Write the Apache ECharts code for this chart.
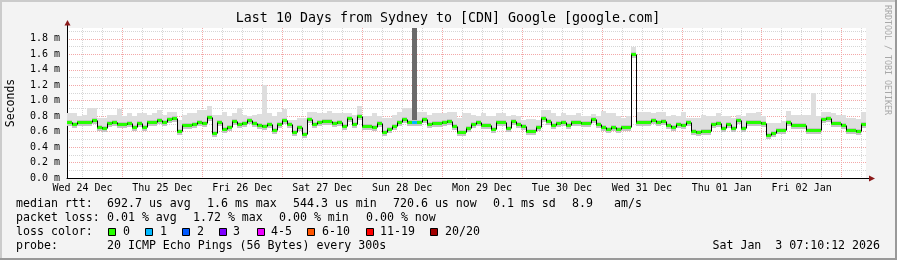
<!DOCTYPE html>
<html><head><meta charset="utf-8">
<script src="https://cdn.jsdelivr.net/npm/echarts@6/dist/echarts.min.js"></script>
<style>html,body{margin:0;padding:0;background:#f3f3f3}#c{width:897px;height:260px}</style>
</head><body><div id="c"></div>
<script>
const titleText = 'Last 10 Days from Sydney to [CDN] Google [google.com]';
const yAxisTitle = 'Seconds';
const dayLabels = ['Wed 24 Dec','Thu 25 Dec','Fri 26 Dec','Sat 27 Dec','Sun 28 Dec','Mon 29 Dec','Tue 30 Dec','Wed 31 Dec','Thu 01 Jan','Fri 02 Jan'];
const startMinute = 440;      // left edge of the plot, minutes after Wed 24 Dec 00:00
const spanMinutes = 14400;    // 10 days
const yMax = 1.94;            // ms

// median RTT per 90-minute bin (ms)
const median = [
0.72,0.70,0.72,0.73,0.72,0.75,0.66,0.645,0.71,0.72,
0.70,0.70,0.71,0.665,0.71,0.66,0.72,0.73,0.745,0.72,
0.765,0.77,0.61,0.68,0.68,0.70,0.72,0.71,0.79,0.58,
0.72,0.63,0.66,0.74,0.70,0.71,0.75,0.71,0.68,0.675,
0.70,
0.62,0.70,0.75,0.70,0.60,0.66,0.575,0.76,0.70,0.73,
0.74,0.74,0.71,0.72,0.67,0.77,0.70,0.80,0.67,0.67,
0.66,0.71,0.60,0.63,0.67,0.72,0.76,0.73,0.73,0.73,
0.76,0.70,0.71,0.71,0.72,0.74,0.67,0.59,0.59,0.65,
0.70,0.72,0.68,0.68,0.64,0.72,0.72,0.645,0.74,0.70,
0.67,0.61,0.61,0.66,0.78,0.74,0.69,0.71,0.72,0.69,
0.72,0.73,0.71,0.71,0.76,0.70,0.66,0.63,0.66,0.63,
0.66,0.66,1.61,0.72,0.72,0.72,0.75,0.73,0.74,0.69,
0.66,0.70,0.685,0.72,0.61,0.60,0.61,0.61,0.70,0.71,
0.645,0.70,0.645,0.75,0.65,0.72,0.72,0.72,0.71,0.55,
0.58,0.62,0.62,0.72,0.69,0.68,0.68,0.62,0.62,0.62,
0.76,0.78,0.71,0.71,0.69,0.62,0.62,0.61,0.70
];
// smoke (ping spread) upper edge per bin (ms)
const smokeHigh = [
0.84,0.84,0.80,0.82,0.90,0.90,0.77,0.78,0.82,0.82,
0.89,0.80,0.84,0.80,0.84,0.84,0.82,0.84,0.88,0.82,
0.85,0.85,0.75,0.82,0.84,0.84,0.88,0.88,0.93,0.82,
0.82,0.86,0.80,0.84,0.90,0.82,0.80,0.82,0.83,1.20,
0.84,
0.80,0.86,0.89,0.75,0.75,0.77,0.77,0.86,0.85,0.84,
0.84,0.87,0.84,0.84,0.84,0.84,0.82,0.93,0.80,0.80,
0.84,0.80,0.77,0.77,0.81,0.86,0.90,0.90,1.94,0.85,
0.85,0.82,0.84,0.84,0.84,0.86,0.86,0.77,0.84,0.84,
0.82,0.80,0.84,0.80,0.80,0.84,0.84,0.80,0.82,0.80,
0.75,0.76,0.76,0.75,0.88,0.88,0.84,0.80,0.84,0.82,
0.82,0.84,0.80,0.80,0.83,0.80,0.87,0.84,0.84,0.80,
0.78,0.80,1.70,0.86,0.86,0.86,0.84,0.86,0.85,0.80,
0.82,0.80,0.86,0.78,0.78,0.77,0.82,0.80,0.80,0.84,
0.80,0.80,0.78,0.82,0.80,0.84,0.84,0.85,0.80,0.71,
0.71,0.71,0.74,0.87,0.82,0.82,0.82,0.82,1.10,0.80,
0.86,0.86,0.84,0.82,0.82,0.77,0.77,0.76,0.85
];
// smoke lower edge per bin (ms)
const smokeLow = [
0.68,0.66,0.68,0.69,0.68,0.70,0.62,0.61,0.67,0.68,
0.66,0.67,0.67,0.62,0.67,0.62,0.68,0.69,0.70,0.68,
0.72,0.73,0.57,0.64,0.64,0.66,0.68,0.67,0.74,0.54,
0.67,0.59,0.62,0.70,0.66,0.67,0.71,0.67,0.64,0.63,
0.66,
0.58,0.66,0.71,0.66,0.56,0.62,0.54,0.72,0.66,0.69,
0.70,0.70,0.67,0.68,0.63,0.73,0.66,0.75,0.63,0.63,
0.62,0.67,0.56,0.59,0.63,0.68,0.72,0.69,0.69,0.69,
0.72,0.66,0.67,0.67,0.68,0.70,0.63,0.55,0.55,0.61,
0.66,0.68,0.64,0.64,0.60,0.68,0.68,0.61,0.70,0.66,
0.63,0.57,0.57,0.62,0.73,0.70,0.65,0.67,0.68,0.65,
0.68,0.69,0.67,0.67,0.72,0.66,0.62,0.59,0.62,0.59,
0.62,0.62,1.56,0.68,0.68,0.68,0.71,0.69,0.70,0.65,
0.62,0.66,0.64,0.68,0.57,0.56,0.57,0.57,0.66,0.67,
0.61,0.66,0.61,0.71,0.61,0.68,0.68,0.68,0.67,0.52,
0.54,0.58,0.58,0.68,0.65,0.64,0.64,0.58,0.58,0.58,
0.72,0.74,0.67,0.67,0.65,0.58,0.58,0.57,0.66
];
// bins where 1 of 20 pings was lost
const lossBins = [69];

const rttLabel = 'median rtt:';
const rttStats = ['692.7 us avg','1.6 ms max','544.3 us min','720.6 us now','0.1 ms sd','8.9','am/s'];
const lossLabel = 'packet loss:';
const lossStats = ['0.01 % avg','1.72 % max','0.00 % min','0.00 % now'];
const colorLabel = 'loss color:';
const lossNames = ['0','1','2','3','4-5','6-10','11-19','20/20'];
const lossColors = ['#26ff00','#00b8ff','#0059ff','#7e00ff','#ee00ff','#ff5500','#ff0000','#a10000'];
const probeLabel = 'probe:';
const probeText = '20 ICMP Echo Pings (56 Bytes) every 300s';
const stampText = 'Sat Jan  3 07:10:12 2026';
const sideText = 'RRDTOOL / TOBI OETIKER';

// ---- layout ----
const mono = '"DejaVu Sans Mono", monospace';
const G = {left: 67, right: 866, top: 28, bottom: 178};
const rttX = [107,207,293,393,493,572,614];
const lossX = [107,193,279,366];
const swatchX = [108,145,182,219,257,307,366,430];
const swatchTextX = [123,160,197,233,271,322,380,445];
const rowY = [204,218,232,246];
const legendFont = '11.6px ' + mono;
const minorGrid = '#d6d6d6';
const majorGrid = '#f3a8a8';

const chart = echarts.init(document.getElementById('c'), null, {renderer: 'canvas', width: 897, height: 260});
const cats = median.map((_, i) => String(i));
const gridMinutes = [];
for (let m = startMinute; m <= startMinute + spanMinutes; m += 10) gridMinutes.push(String(m));

function txt(text, x, y, extra) {
  return Object.assign({type: 'text', x: x, y: y, silent: true,
    style: Object.assign({text: text, font: legendFont, fill: '#000', verticalAlign: 'middle', align: 'left'}, extra || {})});
}
const graphics = [];
graphics.push({type: 'rect', shape: {x: 0, y: 0, width: 897, height: 2}, style: {fill: '#cbcbcb'}, silent: true});
graphics.push({type: 'rect', shape: {x: 0, y: 0, width: 2, height: 260}, style: {fill: '#cbcbcb'}, silent: true});
graphics.push({type: 'rect', shape: {x: 0, y: 258, width: 897, height: 2}, style: {fill: '#999999'}, silent: true});
graphics.push({type: 'rect', shape: {x: 895, y: 0, width: 2, height: 260}, style: {fill: '#999999'}, silent: true});
graphics.push(txt(titleText, 448, 19, {font: '13.3px ' + mono, align: 'center'}));
graphics.push(Object.assign(txt(yAxisTitle, 11, 103, {font: '11.5px ' + mono, align: 'center'}), {rotation: Math.PI / 2}));
graphics.push(Object.assign(txt(sideText, 887, 60, {font: '8.3px ' + mono, align: 'center', fill: '#a8a8a8'}), {rotation: -Math.PI / 2}));
graphics.push({type: 'line', shape: {x1: G.left + 0.5, y1: G.top, x2: G.left + 0.5, y2: 24}, style: {stroke: '#000', lineWidth: 1}, silent: true});
graphics.push({type: 'polygon', shape: {points: [[G.left - 2.5, 25.5], [G.left + 3.5, 25.5], [G.left + 0.5, 20]]}, style: {fill: '#8b1a1a'}, silent: true});
graphics.push({type: 'line', shape: {x1: G.right, y1: G.bottom + 0.5, x2: 870, y2: G.bottom + 0.5}, style: {stroke: '#000', lineWidth: 1}, silent: true});
graphics.push({type: 'polygon', shape: {points: [[869, G.bottom - 2.5], [869, G.bottom + 3.5], [875, G.bottom + 0.5]]}, style: {fill: '#8b1a1a'}, silent: true});
graphics.push(txt(rttLabel, 16, rowY[0]));
rttStats.forEach((s, k) => graphics.push(txt(s, rttX[k], rowY[0])));
graphics.push(txt(lossLabel, 16, rowY[1]));
lossStats.forEach((s, k) => graphics.push(txt(s, lossX[k], rowY[1])));
graphics.push(txt(colorLabel, 16, rowY[2]));
lossNames.forEach((s, k) => {
  graphics.push({type: 'rect', shape: {x: swatchX[k] + 0.5, y: rowY[2] - 3.5, width: 7, height: 7},
    style: {fill: lossColors[k], stroke: '#000', lineWidth: 1}, silent: true});
  graphics.push(txt(s, swatchTextX[k], rowY[2]));
});
graphics.push(txt(probeLabel, 16, rowY[3]));
graphics.push(txt(probeText, 107, rowY[3]));
graphics.push(txt(stampText, 880, rowY[3], {align: 'right'}));

const lossSet = new Set(lossBins);

function binEdges(api, i) {
  const c = api.coord([i, 0]);
  const w = api.size([1, 0])[0];
  return [Math.round(c[0] - w / 2), Math.round(c[0] + w / 2)];
}

chart.setOption({
  backgroundColor: '#f3f3f3',
  animation: false,
  grid: {left: G.left, right: 897 - G.right, top: G.top, bottom: 260 - G.bottom,
         show: true, backgroundColor: '#ffffff', borderWidth: 0},
  xAxis: [
    {type: 'category', data: cats, boundaryGap: true, position: 'bottom', z: 5,
     axisLine: {show: true, lineStyle: {color: '#000', width: 1}},
     axisTick: {show: false}, axisLabel: {show: false}, splitLine: {show: false}},
    {type: 'category', data: gridMinutes, boundaryGap: false, position: 'bottom',
     axisLine: {show: false}, axisTick: {show: false},
     axisLabel: {interval: (i, v) => Number(v) % 1440 === 720,
                 formatter: v => dayLabels[Math.floor(Number(v) / 1440)] || '',
                 fontFamily: mono, fontSize: 10, color: '#000', margin: 5},
     splitLine: {show: true, interval: (i, v) => Number(v) % 360 === 0 && Number(v) % 1440 !== 0,
                 lineStyle: {color: minorGrid, type: [1, 1], width: 1}}},
    {type: 'category', data: gridMinutes, boundaryGap: false, position: 'bottom',
     axisLine: {show: false}, axisTick: {show: false}, axisLabel: {show: false},
     splitLine: {show: true, interval: (i, v) => Number(v) % 1440 === 0,
                 lineStyle: {color: majorGrid, type: [1, 1], width: 1}}}
  ],
  yAxis: [
    {type: 'value', min: 0, max: yMax, interval: 0.2, z: 1,
     axisLine: {show: true, lineStyle: {color: '#000', width: 1}}, axisTick: {show: false},
     axisLabel: {formatter: v => (v < yMax - 0.05 ? v.toFixed(1) + ' m' : ''), showMaxLabel: false,
                 fontFamily: mono, fontSize: 10, color: '#000', margin: 7},
     splitLine: {show: true, showMinLine: false, showMaxLine: false,
                 lineStyle: {color: majorGrid, type: [1, 1], width: 1}}},
    {type: 'value', min: 0, max: yMax, interval: 0.1, z: 0,
     axisLine: {show: false}, axisTick: {show: false}, axisLabel: {show: false},
     splitLine: {show: true, showMinLine: false, showMaxLine: false,
                 lineStyle: {color: minorGrid, type: [1, 1], width: 1}}}
  ],
  series: [
    {type: 'custom', name: 'smoke', xAxisIndex: 0, yAxisIndex: 0, clip: true, z: 2,
     encode: {x: 0, y: [1, 2]},
     data: median.map((m, i) => [i, smokeLow[i], smokeHigh[i], m]),
     renderItem: (p, api) => {
       const i = api.value(0);
       const e = binEdges(api, i);
       const lo = Math.round(api.coord([i, api.value(1)])[1]);
       const hi = Math.round(api.coord([i, api.value(2)])[1]);
       const dense = api.value(2) - api.value(3) > 1;
       return {type: 'rect', shape: {x: e[0], y: hi, width: e[1] - e[0], height: lo - hi},
               style: {fill: dense ? '#6b6b6b' : '#dedede'}};
     }},
    {type: 'custom', name: 'smokecore', xAxisIndex: 0, yAxisIndex: 0, clip: true, z: 3,
     encode: {x: 0, y: 1},
     data: median.map((m, i) => [i, m]),
     renderItem: (p, api) => {
       const i = api.value(0);
       const e = binEdges(api, i);
       const y = Math.round(api.coord([i, api.value(1)])[1]);
       return {type: 'rect', shape: {x: e[0], y: y - 2, width: e[1] - e[0], height: 6},
               style: {fill: '#c4c4c4'}};
     }},
    {type: 'custom', name: 'median', xAxisIndex: 0, yAxisIndex: 0, clip: true, z: 4,
     encode: {x: 0, y: 1},
     data: median.map((m, i) => [i, m, lossSet.has(i) ? 1 : 0]),
     renderItem: (p, api) => {
       const i = api.value(0);
       const e = binEdges(api, i);
       const y = Math.round(api.coord([i, api.value(1)])[1]);
       return {type: 'rect', shape: {x: e[0], y: y - 1, width: e[1] - e[0], height: 3},
               style: {fill: api.value(2) ? lossColors[1] : lossColors[0]}};
     }},
    {type: 'custom', name: 'steps', xAxisIndex: 0, yAxisIndex: 0, clip: true, z: 5,
     encode: {x: 0, y: [1, 2]},
     data: median.slice(1).map((m, k) => [k + 1, median[k], m]),
     renderItem: (p, api) => {
       const i = api.value(0);
       const e = binEdges(api, i);
       const y0 = Math.round(api.coord([i, api.value(1)])[1]);
       const y1 = Math.round(api.coord([i, api.value(2)])[1]);
       if (y0 === y1) return null;
       return {type: 'line', shape: {x1: e[0] + 0.5, y1: y0 + 0.5, x2: e[0] + 0.5, y2: y1 + 0.5},
               style: {stroke: '#000', lineWidth: 1}};
     }}
  ],
  graphic: graphics
});
</script>
</body></html>
